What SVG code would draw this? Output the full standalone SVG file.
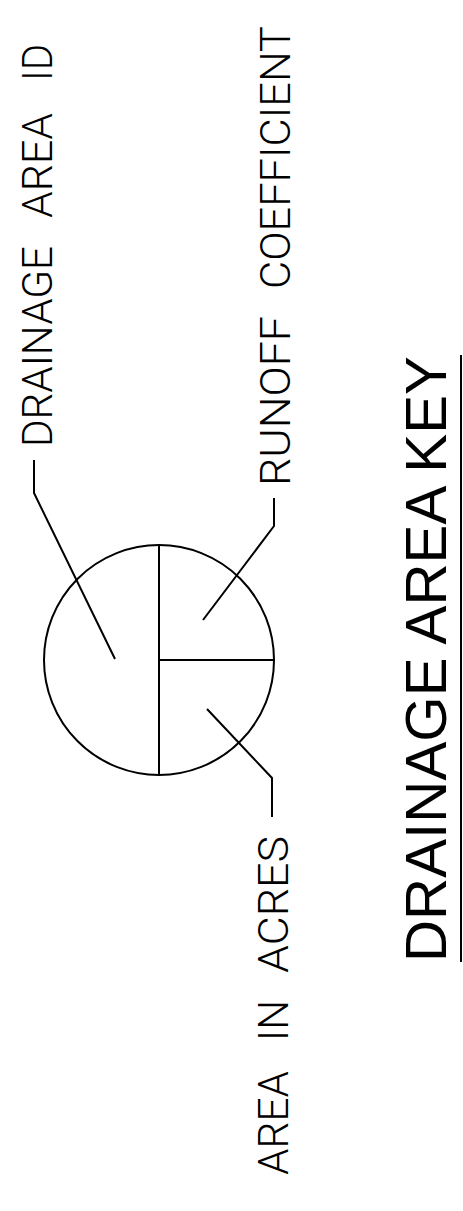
<svg xmlns="http://www.w3.org/2000/svg" width="463" height="1211" viewBox="0 0 463 1211">
<style>
.lbl{font-family:Roboto,"Liberation Sans",sans-serif;font-weight:300;font-size:43px;fill:#000}
.ttl{font-family:"Liberation Sans",Arial,sans-serif;font-size:58px;fill:#000}
.ln{fill:none;stroke:#000;stroke-width:2;stroke-linecap:butt;stroke-linejoin:miter}
</style>
<rect width="463" height="1211" fill="#fff"/>
<g id="symbol">
<circle class="ln" cx="159" cy="660" r="115"/>
<line class="ln" x1="159" y1="545" x2="159" y2="775"/>
<line class="ln" x1="159" y1="660" x2="274" y2="660"/>
</g>
<g id="connectors">
<polyline class="ln" points="34,460 34,493 115,659"/>
<polyline class="ln" points="274,498 274,526 203,620"/>
<polyline class="ln" points="272,817 272,778 207,709"/>
</g>
<g id="label-id">
<text class="lbl" transform="translate(52,447) rotate(-90)" textLength="201" lengthAdjust="spacingAndGlyphs">DRAINAGE</text>
<text class="lbl" transform="translate(52,218) rotate(-90)" textLength="105" lengthAdjust="spacingAndGlyphs">AREA</text>
<text class="lbl" transform="translate(52,81) rotate(-90)" textLength="37" lengthAdjust="spacingAndGlyphs">ID</text>
</g>
<g id="label-runoff">
<text class="lbl" transform="translate(290,486) rotate(-90)" textLength="170" lengthAdjust="spacingAndGlyphs">RUNOFF</text>
<text class="lbl" transform="translate(290,289) rotate(-90)" textLength="263" lengthAdjust="spacingAndGlyphs">COEFFICIENT</text>
</g>
<g id="label-area">
<text class="lbl" transform="translate(288,1175) rotate(-90)" textLength="104" lengthAdjust="spacingAndGlyphs">AREA</text>
<text class="lbl" transform="translate(288,1041) rotate(-90)" textLength="41" lengthAdjust="spacingAndGlyphs">IN</text>
<text class="lbl" transform="translate(288,973) rotate(-90)" textLength="137" lengthAdjust="spacingAndGlyphs">ACRES</text>
</g>
<g id="title">
<text class="ttl" transform="translate(446,962) rotate(-90)" textLength="606" lengthAdjust="spacingAndGlyphs">DRAINAGE AREA KEY</text>
<line class="ln" x1="461" y1="355" x2="461" y2="962"/>
</g>
</svg>
